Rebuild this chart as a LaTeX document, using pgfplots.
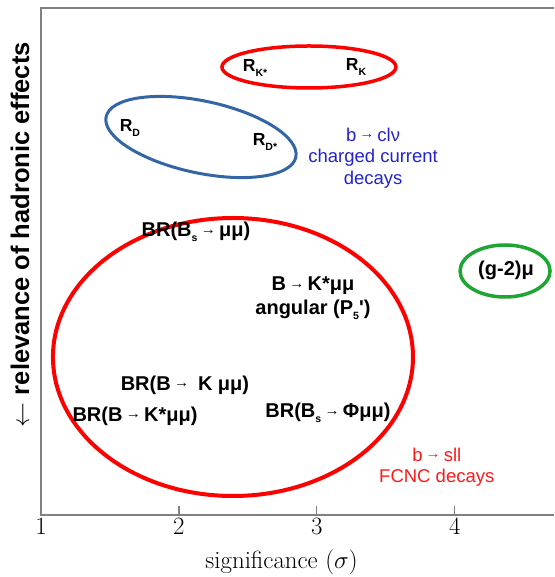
\documentclass[border=0pt]{standalone}
\usepackage{fontspec}
\usepackage{pgfplots}
\pgfplotsset{compat=1.18}
\newfontfamily\arial{Liberation Sans}
\definecolor{lored}{RGB}{255,0,0}
\definecolor{loblue}{RGB}{52,101,164}
\definecolor{logreen}{RGB}{30,165,50}
\definecolor{txtblue}{RGB}{35,35,205}
\definecolor{txtred}{RGB}{255,25,25}
\definecolor{axgray}{RGB}{128,128,128}
\newcommand{\arr}{{\,\raisebox{0.25ex}{\fontsize{15}{15}\selectfont\mdseries →}\,}}
\newcommand{\sub}[1]{\raisebox{-0.45ex}{\fontsize{10.5}{10.5}\selectfont #1}}
\newcommand{\lab}{\arial\bfseries\fontsize{20}{24}\selectfont}
\newcommand{\labR}{\arial\bfseries\fontsize{17.5}{20}\selectfont}
\newcommand{\txt}{\arial\fontsize{18.5}{21.5}\selectfont}

\begin{document}
\begin{tikzpicture}
\begin{axis}[
  scale only axis, width=513pt, height=507pt,
  xmin=1, xmax=4.72, ymin=0, ymax=507,
  axis line style={draw=none},
  xtick={1,2,3,4}, ytick=\empty,
  xtick pos=bottom,
  tick align=inside,
  major tick length=9pt,
  every tick/.style={axgray, line width=1.2pt},
  xticklabel style={font=\Huge},
  xlabel={significance ($\sigma$)},
  xlabel style={font=\Huge, at={(axis description cs:0.469,-0.093)}, anchor=center},
  ylabel={$\leftarrow$ relevance of hadronic effects},
  ylabel style={font=\arial\bfseries\fontsize{25.5}{28}\selectfont, at={(axis description cs:-0.041,0.553)}, anchor=center},
  clip=false,
]
\coordinate (ll) at (rel axis cs:0,0);
\coordinate (ur) at (rel axis cs:1,1);
\draw[axgray, line width=1.2pt] (rel axis cs:1,1) -- (rel axis cs:0,1) -- (rel axis cs:0,0) -- (rel axis cs:1,0);

% ellipses (centres in axis units, radii in pt)
\draw[lored, line width=3.5pt] (axis cs:2.943,448) ellipse [x radius=87pt, y radius=21pt];
\draw[loblue, line width=3pt] (axis cs:2.160,378) ellipse [x radius=97pt, y radius=36pt, rotate=-12];
\draw[lored, line width=4pt] (axis cs:2.392,158) ellipse [x radius=180pt, y radius=139pt];
\draw[logreen, line width=3.5pt] (axis cs:4.365,244) ellipse [x radius=45pt, y radius=26pt];

% labels
\node[font=\labR] at (axis cs:2.552,447) {R\sub{K*}};
\node[font=\labR] at (axis cs:3.284,448) {R\sub{K}};
\node[font=\labR] at (axis cs:1.645,387) {R\sub{D}};
\node[font=\labR] at (axis cs:2.624,373) {R\sub{D*}};
\node[font=\txt, text=txtblue, align=center] at (axis cs:3.408,357) {b\arr clν\\charged current\\decays};
\node[font=\lab] at (axis cs:2.124,283) {BR(B\sub{s}\arr μμ)};
\node[font=\lab, align=center] at (axis cs:2.972,216.5) {B\arr K*μμ\\angular (P\sub{5}')};
\node[font=\lab] at (axis cs:2.044,130) {BR(B\arr{} K μμ)};
\node[font=\lab] at (axis cs:1.682,99) {BR(B\arr K*μμ)};
\node[font=\lab] at (axis cs:3.081,102) {BR(B\sub{s}\arr Φμμ)};
\node[font=\txt, text=txtred, align=center] at (axis cs:3.870,48) {b\arr sll\\FCNC decays};
\node[font=\lab] at (axis cs:4.372,245) {(g-2)μ};
\end{axis}
\pgfresetboundingbox
\path ([shift={(-41pt,-62pt)}]ll) rectangle ([shift={(0pt,8pt)}]ur);
\end{tikzpicture}
\end{document}
